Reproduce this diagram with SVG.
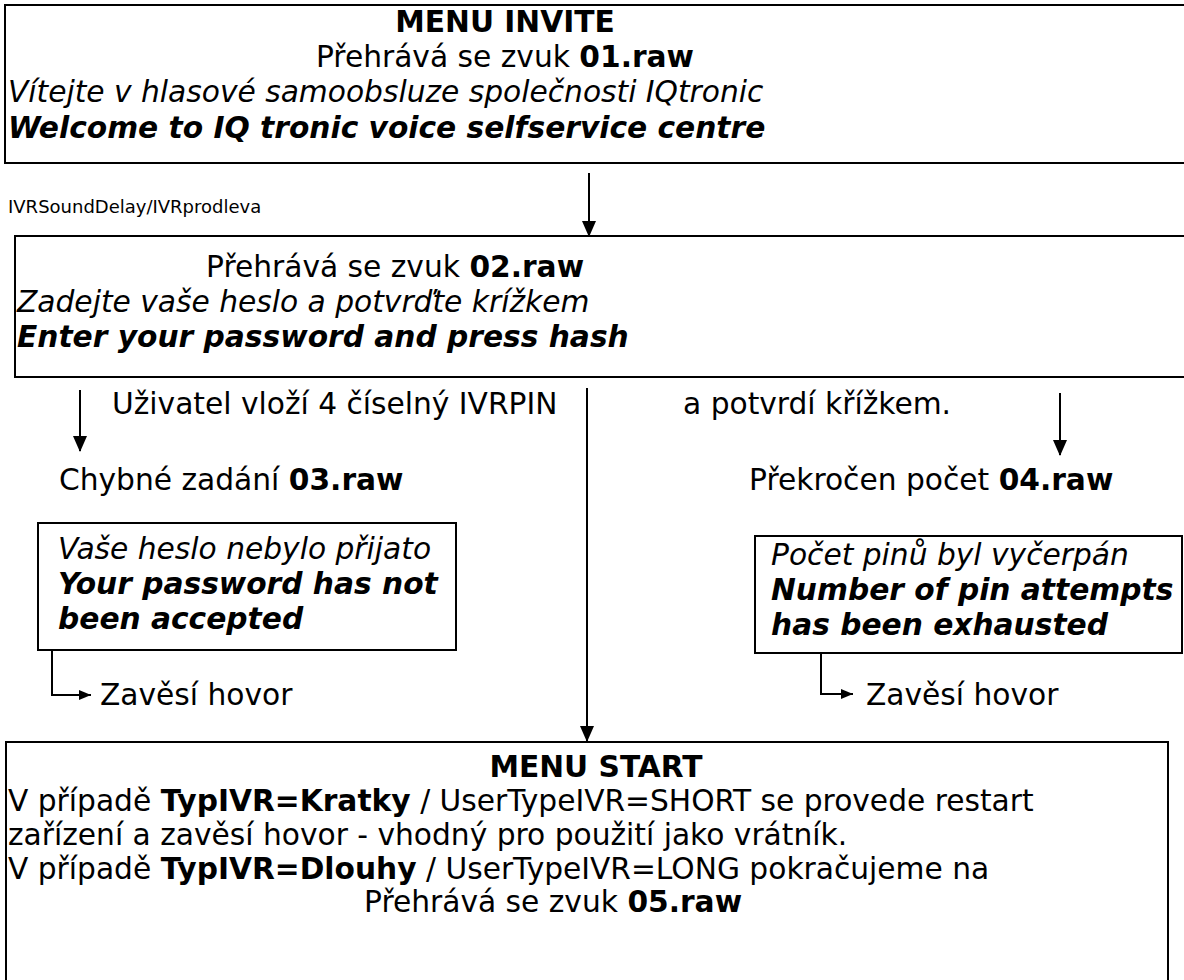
<svg xmlns="http://www.w3.org/2000/svg" width="1184" height="980" viewBox="0 0 1184 980">
<defs>
<marker id="ah" markerWidth="14" markerHeight="16" refX="7" refY="15" orient="0" markerUnits="userSpaceOnUse">
<path d="M0,0 L14,0 L7,16 Z" fill="#000"/>
</marker>
<marker id="ahs" markerWidth="12" markerHeight="10" refX="12" refY="5" orient="0" markerUnits="userSpaceOnUse">
<path d="M0,0 L12,5 L0,10 Z" fill="#000"/>
</marker>
</defs>
<style>
.box{fill:#fff;stroke:#000;stroke-width:2}
text{font-family:"DejaVu Sans","Verdana",sans-serif;font-size:29.7px;fill:#000}
.b{font-weight:bold}
.i{font-style:italic}
.bi{font-weight:bold;font-style:italic}
.sm{font-size:18px}
.c{text-anchor:middle}
.ln{stroke:#000;stroke-width:2;fill:none}
</style>
<rect width="1184" height="980" fill="#fff"/>
<g id="menu-invite">
<rect class="box" x="5" y="5" width="1190" height="158"/>
<text class="b c" x="505" y="32">MENU INVITE</text>
<text class="c" x="505" y="67">Přehrává se zvuk <tspan class="b">01.raw</tspan></text>
<text class="i" x="8" y="102">Vítejte v hlasové samoobsluze společnosti IQtronic</text>
<text class="bi" x="8" y="138">Welcome to IQ tronic voice selfservice centre</text>
</g>
<g id="delay-label">
<text class="sm" x="8" y="213">IVRSoundDelay/IVRprodleva</text>
</g>
<g id="password">
<rect class="box" x="15" y="236" width="1180" height="141"/>
<text x="206" y="277">Přehrává se zvuk <tspan class="b">02.raw</tspan></text>
<text class="i" x="17" y="312">Zadejte vaše heslo a potvrďte krížkem</text>
<text class="bi" x="17" y="347">Enter your password and press hash</text>
</g>
<g id="labels">
<text x="112" y="414">Uživatel vloží 4 číselný IVRPIN</text>
<text x="683" y="414">a potvrdí křížkem.</text>
</g>
<g id="wrong">
<text x="59" y="490">Chybné zadání <tspan class="b">03.raw</tspan></text>
</g>
<g id="exceeded">
<text x="749" y="490">Překročen počet <tspan class="b">04.raw</tspan></text>
</g>
<g id="not-accepted">
<rect class="box" x="38" y="523" width="418" height="127"/>
<text class="i" x="58" y="559">Vaše heslo nebylo přijato</text>
<text class="bi" x="58" y="594">Your password has not</text>
<text class="bi" x="58" y="629">been accepted</text>
</g>
<g id="exhausted">
<rect class="box" x="755" y="536" width="427" height="117"/>
<text class="i" x="771" y="565">Počet pinů byl vyčerpán</text>
<text class="bi" x="771" y="600">Number of pin attempts</text>
<text class="bi" x="771" y="635">has been exhausted</text>
</g>
<g id="hangup-1">
<text x="100" y="705">Zavěsí hovor</text>
</g>
<g id="hangup-2">
<text x="866" y="705">Zavěsí hovor</text>
</g>
<g id="menu-start">
<rect class="box" x="6" y="742" width="1162" height="260"/>
<text class="b c" x="596" y="777">MENU START</text>
<text x="8" y="811">V případě <tspan class="b">TypIVR=Kratky</tspan> / UserTypeIVR=SHORT se provede restart</text>
<text x="8" y="845">zařízení a zavěsí hovor - vhodný pro použití jako vrátník.</text>
<text x="8" y="879">V případě <tspan class="b">TypIVR=Dlouhy</tspan> / UserTypeIVR=LONG pokračujeme na</text>
<text x="364" y="912">Přehrává se zvuk <tspan class="b">05.raw</tspan></text>
</g>
<g id="connectors">
<line class="ln" x1="589" y1="173" x2="589" y2="236" marker-end="url(#ah)"/>
<line class="ln" x1="80" y1="390" x2="80" y2="451" marker-end="url(#ah)"/>
<line class="ln" x1="587" y1="388" x2="587" y2="741" marker-end="url(#ah)"/>
<line class="ln" x1="1060" y1="393" x2="1060" y2="455" marker-end="url(#ah)"/>
<polyline class="ln" points="52,650 52,695 91,695" marker-end="url(#ahs)"/>
<polyline class="ln" points="821,653 821,694 853,694" marker-end="url(#ahs)"/>
</g>
</svg>
